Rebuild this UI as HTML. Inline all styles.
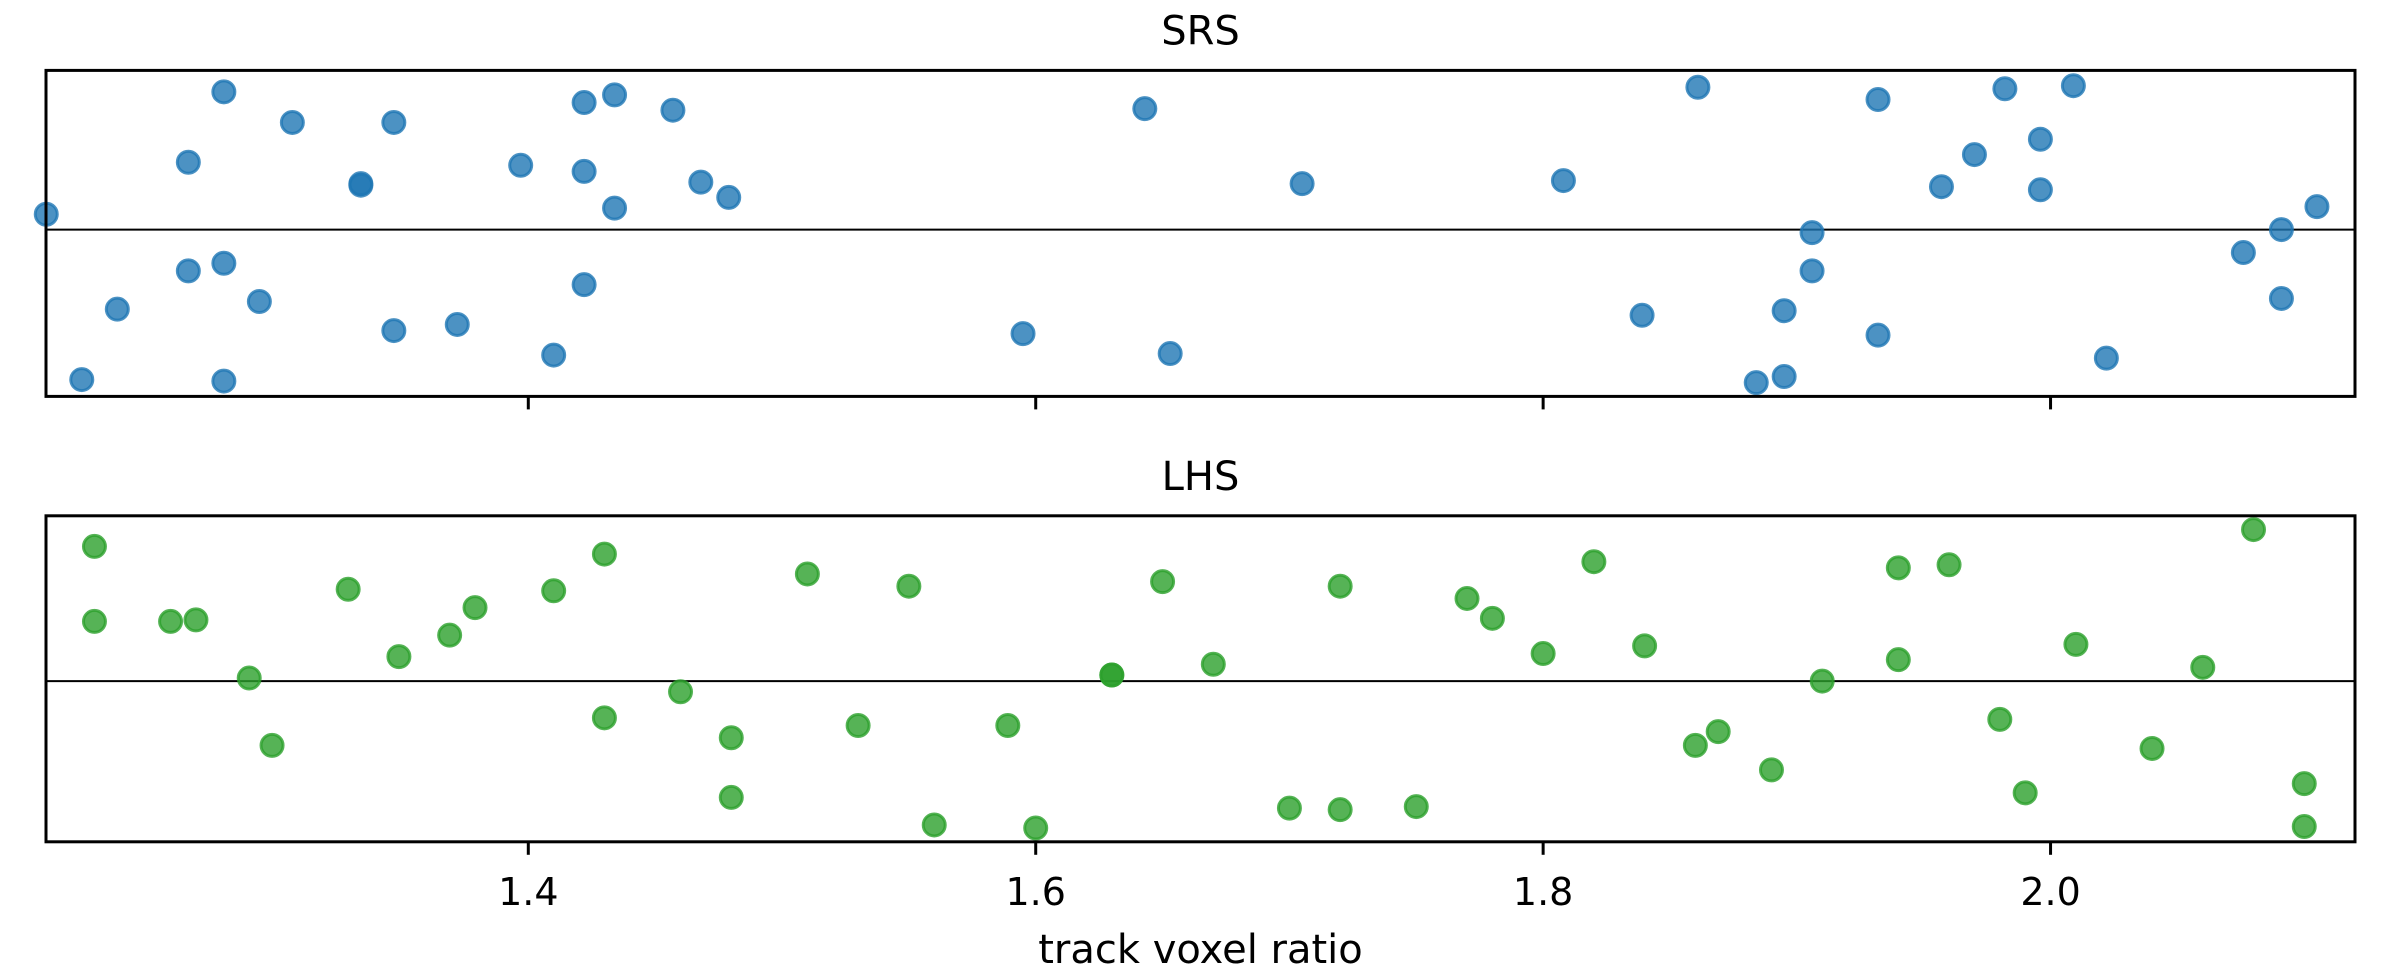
<!DOCTYPE html>
<html><head><meta charset="utf-8"><style>
html,body{margin:0;padding:0;background:#fff;}
svg{display:block;font-family:"DejaVu Sans","Liberation Sans",sans-serif;}
</style></head><body>
<svg id="chart" width="2400" height="975" viewBox="0 0 2400 975" xmlns="http://www.w3.org/2000/svg">
<g id="layer"></g>
</svg>
<script>
const srsX = [1.210,1.280,1.307,1.347,1.422,1.434,1.457,1.643,1.861,1.932,1.982,2.009,1.266,1.397,1.422,1.334,1.334,1.468,1.479,1.434,1.705,1.808,1.970,1.996,1.957,1.996,2.105,2.091,1.906,2.076,1.906,1.266,1.280,1.422,1.294,1.238,2.091,1.347,1.372,1.410,1.595,1.653,1.839,1.895,1.932,2.022,1.884,1.895,1.224,1.280];
const srsY = [0.10,0.90,0.70,0.70,0.83,0.88,0.78,0.79,0.93,0.85,0.92,0.94,0.44,0.42,0.38,0.30,0.29,0.31,0.21,0.14,0.30,0.32,0.49,0.59,0.28,0.26,0.15,0.00,-0.02,-0.15,-0.27,-0.27,-0.22,-0.36,-0.47,-0.52,-0.45,-0.66,-0.62,-0.82,-0.68,-0.81,-0.56,-0.53,-0.69,-0.84,-1.00,-0.96,-0.98,-0.99];
const lhsX = [1.229,1.229,1.259,1.269,1.290,1.299,1.329,1.349,1.369,1.379,1.410,1.430,1.430,1.460,1.480,1.480,1.510,1.530,1.550,1.560,1.589,1.600,1.630,1.630,1.650,1.670,1.700,1.720,1.720,1.750,1.770,1.780,1.800,1.820,1.840,1.860,1.869,1.890,1.910,1.940,1.940,1.960,1.980,1.990,2.010,2.040,2.060,2.080,2.100,2.100];
const lhsY = [0.88,0.39,0.39,0.40,0.02,-0.42,0.60,0.16,0.30,0.48,0.59,0.83,-0.24,-0.07,-0.37,-0.76,0.70,-0.29,0.62,-0.94,-0.29,-0.96,0.04,0.04,0.65,0.11,-0.83,0.62,-0.84,-0.82,0.54,0.41,0.18,0.78,0.23,-0.42,-0.33,-0.58,0.00,0.74,0.14,0.76,-0.25,-0.73,0.24,-0.44,0.09,0.99,-0.67,-0.95];
const xTicks = [1.4,1.6,1.8,2.0];
const xTickLabels = ["1.4","1.6","1.8","2.0"];

const NS = "http://www.w3.org/2000/svg";
const layer = document.getElementById('layer');
const L = 46, R = 2355;
const XMIN = 1.2099, XMAX = 2.1200;
function xs(v){ return L + (v - XMIN) / (XMAX - XMIN) * (R - L); }
function mk(tag, attrs){ const e = document.createElementNS(NS, tag); for (const k in attrs) e.setAttribute(k, attrs[k]); layer.appendChild(e); return e; }

function panel(name, top, bottom, ymin, ymax, X, Y, color, title, showLabels){
  const ys = v => bottom - (v - ymin) / (ymax - ymin) * (bottom - top);
  const t = mk('text', {x: (L+R)/2, y: top - 26, 'text-anchor':'middle', 'font-size':40, fill:'#000'});
  t.textContent = title;
  
  
  const h = mk('line', {x1:L, x2:R, y1:ys(0), y2:ys(0), stroke:'#000', 'stroke-width':2});
  
  
  for (let i = 0; i < X.length; i++){
    const c = mk('circle', {cx: xs(X[i]), cy: ys(Y[i]), r: 11, fill: color, 'fill-opacity': 0.8, stroke: color, 'stroke-opacity': 0.8, 'stroke-width': 3});
    
    
  }
  for (let i = 0; i < xTicks.length; i++){
    const tk = mk('line', {x1: xs(xTicks[i]), x2: xs(xTicks[i]), y1: bottom, y2: bottom + 13, stroke:'#000', 'stroke-width':3});
    
    
    if (showLabels){
      const tl = mk('text', {x: xs(xTicks[i]), y: bottom + 63, 'text-anchor':'middle', 'font-size':38, fill:'#000'});
      tl.textContent = xTickLabels[i];
      
      
    }
  }
  const f = mk('rect', {x: L, y: top, width: R - L, height: bottom - top, fill:'none', stroke:'#000', 'stroke-width':3});
  
  
}
panel('srs', 70.4, 396.4, -1.09, 1.04, srsX, srsY, '#1f77b4', 'SRS', false);
panel('lhs', 515.8, 841.8, -1.05, 1.08, lhsX, lhsY, '#2ca02c', 'LHS', true);
const xl = mk('text', {x: (L+R)/2, y: 963, 'text-anchor':'middle', 'font-size':40, fill:'#000'});
xl.textContent = 'track voxel ratio';


</script>
</body></html>
